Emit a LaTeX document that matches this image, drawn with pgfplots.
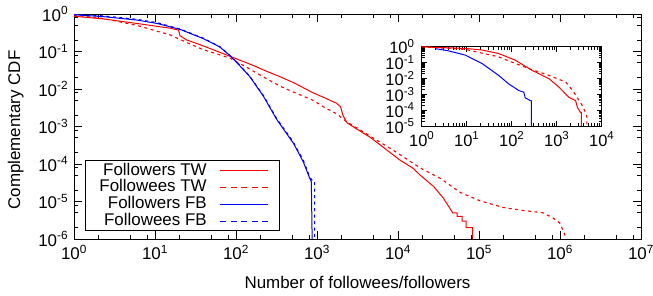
\documentclass[border=0pt]{standalone}
\usepackage{fontspec}
\setmainfont{Liberation Sans}
\usepackage{pgfplots}
\pgfplotsset{compat=1.18}
\newcommand{\E}[1]{10\textsuperscript{#1}}
\definecolor{gred}{RGB}{255,0,0}
\definecolor{gblue}{RGB}{0,0,255}
\newcommand{\gap}{\hspace{11bp}\rule{48bp}{0pt}}
\begin{document}
\fontsize{17}{20}\selectfont
\begin{tikzpicture}
\useasboundingbox (0,0) rectangle (653bp,296bp);
\begin{axis}[
  at={(74bp,57bp)}, anchor=south west,
  scale only axis, width=567bp, height=225bp,
  xmode=log, ymode=log,
  xmin=1, xmax=10000000, ymin=1e-6, ymax=1,
  xtick={1,10,100,1000,10000,100000,1000000,10000000},
  xticklabels={\E{0},\E{1},\E{2},\E{3},\E{4},\E{5},\E{6},\E{7}},
  ytick={1e-6,1e-5,1e-4,1e-3,1e-2,1e-1,1},
  yticklabels={\E{-6},\E{-5},\E{-4},\E{-3},\E{-2},\E{-1},\E{0}},
  minor xtick={2,5,8,20,50,80,200,500,800,2000,5000,8000,20000,50000,80000,200000,500000,800000,2000000,5000000,8000000},
  minor ytick={2e-6,5e-6,8e-6,2e-5,5e-5,8e-5,2e-4,5e-4,8e-4,2e-3,5e-3,8e-3,2e-2,5e-2,8e-2,0.2,0.5,0.8},
  tick align=inside, tick pos=both,
  major tick length=8bp, minor tick length=4bp,
  every tick/.style={black, line width=0.7bp},
  axis line style={line width=0.9bp},
  every axis x label/.style={at={(axis description cs:0.5,-0.2178)}, anchor=base},
  every axis y label/.style={at={(axis description cs:-0.0952,0.484)}, rotate=90, anchor=base},
  xlabel={Number of followees/followers},
  ylabel={Complementary CDF},
  legend plot pos=none,
  legend cell align=right,
  legend style={at={(axis description cs:0.0194,0.0356)}, anchor=south west,
    draw=black, fill=none, line width=0.9bp, inner xsep=13bp, inner ysep=1.5bp,
    nodes={inner sep=1bp, text height=12bp, text depth=2.7bp}},
]
\addplot[color=gred, line width=1bp] coordinates {
(1,0.871) (2.29,0.741) (5.89,0.562) (15.5,0.417) (19.5,0.372) (20.4,0.263)
(24.5,0.204) (36.3,0.151) (85.1,0.0741) (162,0.0427) (240,0.0295) (347,0.0214)
(513,0.0148) (891,0.00794) (1259,0.00575) (1738,0.00417) (1950,0.00339)
(2089,0.00200) (2344,0.00126) (3162,0.000832) (4467,0.000525) (6026,0.000324)
(10470,0.000129) (15490,7.59e-5) (18620,5.13e-5) (27540,2.51e-5) (36310,1.23e-5)
(43650,6.61e-6) (47300,5e-6) (53700,5e-6) (53700,4e-6) (61700,4e-6) (61700,3e-6)
(69200,3e-6) (69200,2e-6) (83200,2e-6) (83200,1e-6)
};
\addlegendentry{Followers TW\gap}
\addplot[color=gred, line width=1.1bp, dash pattern=on 3bp off 3.5bp] coordinates {
(1,0.933) (2.29,0.759) (5.89,0.501) (9.55,0.372) (15.5,0.275) (20.4,0.209)
(38.0,0.115) (85.1,0.0661) (135,0.0380) (219,0.0209) (347,0.0120) (417,0.0100)
(891,0.00501) (1259,0.00316) (1738,0.00219) (2344,0.00132) (3162,0.000891)
(6026,0.000380) (8710,0.000234) (18620,7.94e-5) (33110,4.17e-5) (58880,1.74e-5)
(102300,1.05e-5) (199500,6.92e-6) (354800,5.75e-6) (616600,5.01e-6)
(831800,3.55e-6) (1000000,2.63e-6) (1148000,1.29e-6) (1175000,1e-6)
};
\addlegendentry{Followees TW\gap}
\addplot[color=gblue, line width=1bp] coordinates {
(1,0.955) (2.29,0.851) (5.89,0.692) (10.5,0.562) (20.4,0.389) (39.8,0.219)
(63.1,0.132) (85.1,0.0759) (107,0.0457) (148,0.0214) (219,0.00631) (316,0.00158)
(468,0.000468) (513,0.000355) (676,0.000115) (813,4.17e-5) (851,3.39e-5) (871,1e-6)
};
\addlegendentry{Followers FB\gap}
\addplot[color=gblue, line width=1.1bp, dash pattern=on 3bp off 3.5bp] coordinates {
(1,0.977) (2.29,0.891) (5.89,0.724) (10.5,0.589) (20.4,0.398) (39.8,0.224)
(63.1,0.135) (85.1,0.0776) (107,0.0468) (148,0.0219) (219,0.00661) (316,0.00166)
(468,0.000501) (513,0.000372) (676,0.000126) (813,4.57e-5) (891,3.39e-5)
(933,3.39e-5) (933,1e-6)
};
\addlegendentry{Followees FB\gap}
\addplot[forget plot, color=gred, line width=1bp] coordinates {(63.5,6.62e-5) (248.4,6.62e-5)};
\addplot[forget plot, color=gred, line width=1.1bp, dash pattern=on 6bp off 4.5bp] coordinates {(63.5,2.33e-5) (248.4,2.33e-5)};
\addplot[forget plot, color=gblue, line width=1bp] coordinates {(63.5,8.07e-6) (248.4,8.07e-6)};
\addplot[forget plot, color=gblue, line width=1.1bp, dash pattern=on 6bp off 4.5bp] coordinates {(63.5,2.89e-6) (248.4,2.89e-6)};
\end{axis}
\begin{axis}[
  at={(421.7bp,170bp)}, anchor=south west,
  scale only axis, width=180bp, height=79.3bp,
  xmode=log, ymode=log,
  xmin=1, xmax=10000, ymin=1e-5, ymax=1,
  axis background/.style={fill=white},
  xtick={1,10,100,1000,10000},
  xticklabels={\E{0},\E{1},\E{2},\E{3},\E{4}},
  ytick={1e-5,1e-4,1e-3,1e-2,1e-1,1},
  yticklabels={\E{-5},\E{-4},\E{-3},\E{-2},\E{-1},\E{0}},
  minor xtick={2,3,4,5,6,7,8,9,20,30,40,50,60,70,80,90,200,300,400,500,600,700,800,900,2000,3000,4000,5000,6000,7000,8000,9000},
  minor ytick={},
  tick align=inside, tick pos=both,
  major tick length=5bp, minor tick length=3bp,
  every tick/.style={black, line width=0.7bp},
  axis line style={line width=0.9bp},
  yticklabel style={inner sep=0pt, xshift=-7bp, font=\fontsize{16.5}{16}\selectfont},
  xticklabel style={font=\fontsize{16.5}{16}\selectfont},
]
\addplot[color=gblue, line width=1bp] coordinates {
(2.0,0.759) (3.89,0.550) (9.33,0.295) (21.9,0.0871) (51.3,0.0155) (85.1,0.00457)
(145,0.00170) (186,0.00135) (200,0.000589) (263,0.000398) (275,0.000380) (275,1e-5)
};
\addplot[color=gred, line width=1bp] coordinates {
(1,0.977) (9.33,0.776) (21.9,0.617) (51.3,0.372) (120,0.141) (282,0.0324)
(676,0.00955) (1122,0.00282) (1862,0.000646) (2630,0.000398) (2884,0.000148)
(3388,7.08e-5) (3548,7.08e-5) (3548,1e-5)
};
\addplot[color=gred, line width=1.1bp, dash pattern=on 3bp off 3.5bp] coordinates {
(1,0.99) (9.33,0.676) (51.3,0.229) (120,0.0871) (282,0.0355) (676,0.0155)
(1585,0.00589) (2399,0.00135) (3715,0.000191) (4365,7.08e-5) (4677,3.98e-5) (4677,1e-5)
};
\end{axis}
\end{tikzpicture}
\end{document}
